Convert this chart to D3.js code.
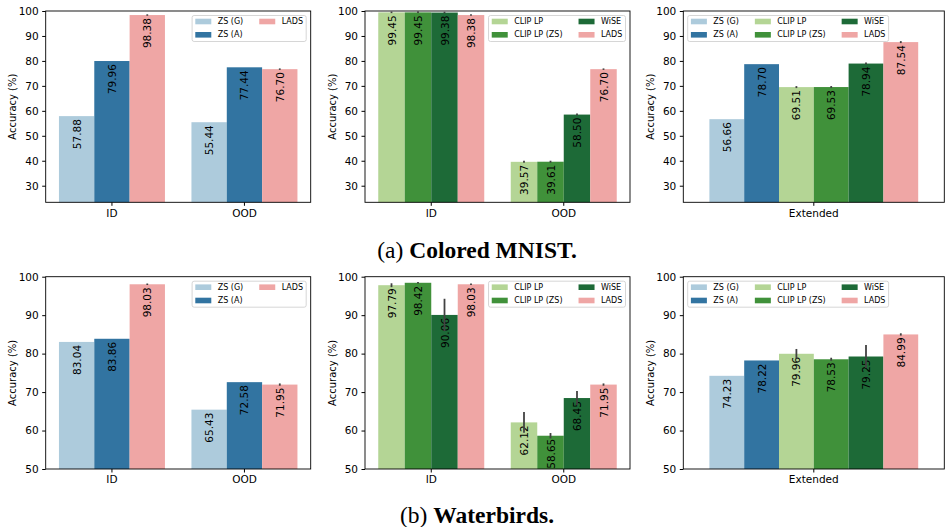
<!DOCTYPE html>
<html>
<head>
<meta charset="utf-8">
<script src="https://cdn.jsdelivr.net/npm/d3@7"></script>
<style>
  body { margin: 0; background: #fff; }
  text { font-family: "DejaVu Sans", sans-serif; }
</style>
</head>
<body>
<div id="chart"></div>
<script>
// Data
var groupCats = ['ID', 'OOD'];
var extCats = ['Extended'];

var zsNames = ['ZS (G)', 'ZS (A)', 'LADS'];
var clipNames = ['CLIP LP', 'CLIP LP (ZS)', 'WiSE', 'LADS'];
var allNames = ['ZS (G)', 'ZS (A)', 'CLIP LP', 'CLIP LP (ZS)', 'WiSE', 'LADS'];

var colors = {
  'ZS (G)': '#adcbdc',
  'ZS (A)': '#3274a1',
  'CLIP LP': '#b4d595',
  'CLIP LP (ZS)': '#40913a',
  'WiSE': '#1d6a37',
  'LADS': '#efa6a5'
};

// Colored MNIST (ID, OOD)
var mnistZsG = [57.88, 55.44];
var mnistZsA = [79.96, 77.44];
var mnistClipLp = [99.45, 39.57];
var mnistClipLpZs = [99.45, 39.61];
var mnistWise = [99.38, 58.50];
var mnistLads = [98.38, 76.70];
var mnistClipLpErr = [0.3, 0.4];
var mnistClipLpZsErr = [0.3, 0.4];
var mnistWiseErr = [0.3, 0.4];
var mnistLadsErr = [0.3, 0.3];
// Colored MNIST extended, order of allNames
var mnistExt = [56.66, 78.70, 69.51, 69.53, 78.94, 87.54];
var mnistExtErr = [0, 0, 0.4, 0.4, 0.4, 0.4];

// Waterbirds (ID, OOD)
var wbZsG = [83.04, 65.43];
var wbZsA = [83.86, 72.58];
var wbClipLp = [97.79, 62.12];
var wbClipLpZs = [98.42, 58.65];
var wbWise = [90.06, 68.45];
var wbLads = [98.03, 71.95];
var wbClipLpErr = [0.5, 2.7];
var wbClipLpZsErr = [0.2, 0.7];
var wbWiseErr = [4.2, 1.85];
var wbLadsErr = [0.2, 0.3];
// Waterbirds extended
var wbExt = [74.23, 78.22, 79.96, 78.53, 79.25, 84.99];
var wbExtErr = [0, 0, 1.25, 0.4, 3.0, 0.3];

var mnistTicks = [30, 40, 50, 60, 70, 80, 90, 100];
var wbTicks = [50, 60, 70, 80, 90, 100];

var svg = d3.select('#chart').append('svg')
  .attr('width', 950)
  .attr('height', 527);

// flatten series into rows for one panel
function makeRows(cats, names, values, errs) {
  var rows = [];
  cats.forEach(function(c, ci) {
    names.forEach(function(n, si) {
      rows.push({cat: c, name: n, value: values[si][ci], err: errs[si][ci]});
    });
  });
  return rows;
}

function drawPanel(p) {
  var g = svg.append('g');
  var x0 = d3.scaleBand().domain(p.cats).range([p.left, p.right])
    .paddingInner(0.2).paddingOuter(0.1);
  var x1 = d3.scaleBand().domain(p.names).range([0, x0.bandwidth()]);
  var y = d3.scaleLinear().domain(p.yDomain).range([p.bottom, p.top]);

  // bars
  g.selectAll('rect.bar').data(p.rows).enter().append('rect')
    .attr('class', 'bar')
    .attr('x', function(d) { return x0(d.cat) + x1(d.name); })
    .attr('width', x1.bandwidth())
    .attr('y', function(d) { return y(d.value); })
    .attr('height', function(d) { return y(p.yDomain[0]) - y(d.value); })
    .style('fill', function(d) { return colors[d.name]; });

  // value labels
  g.selectAll('text.val').data(p.rows).enter().append('text')
    .attr('class', 'val')
    .attr('transform', function(d) {
      var cx = x0(d.cat) + x1(d.name) + x1.bandwidth() / 2;
      return 'translate(' + cx + ',' + (y(d.value) + 3) + ') rotate(-90)';
    })
    .attr('text-anchor', 'end')
    .attr('dominant-baseline', 'central')
    .style('font-size', '10.5px')
    .style('fill', '#000')
    .text(function(d) { return d.value.toFixed(2); });

  // error bars
  g.selectAll('line.err').data(p.rows.filter(function(d) { return d.err > 0; }))
    .enter().append('line')
    .attr('class', 'err')
    .attr('x1', function(d) { return x0(d.cat) + x1(d.name) + x1.bandwidth() / 2; })
    .attr('x2', function(d) { return x0(d.cat) + x1(d.name) + x1.bandwidth() / 2; })
    .attr('y1', function(d) { return y(d.value - d.err); })
    .attr('y2', function(d) { return y(d.value + d.err); })
    .style('stroke', '#424242')
    .style('stroke-width', 1.8);

  // axes
  var ya = g.append('g')
    .attr('transform', 'translate(' + p.left + ',0)')
    .call(d3.axisLeft(y).tickValues(p.ticks).tickSize(3.5).tickPadding(3.5));
  ya.select('.domain').remove();
  ya.selectAll('text').style('font-size', '10.5px').style('fill', '#000')
    .attr('font-family', null);

  var xa = g.append('g')
    .attr('transform', 'translate(0,' + p.bottom + ')')
    .call(d3.axisBottom(x0).tickSize(3.5).tickPadding(3.5));
  xa.select('.domain').remove();
  xa.selectAll('text').style('font-size', '10.5px').style('fill', '#000')
    .attr('font-family', null);

  // frame
  g.append('rect')
    .attr('x', p.left).attr('y', p.top)
    .attr('width', p.right - p.left).attr('height', p.bottom - p.top)
    .style('fill', 'none').style('stroke', '#000').style('stroke-width', 0.9);

  g.append('text')
    .attr('transform', 'translate(' + (p.left - 33) + ',' + ((p.top + p.bottom) / 2) + ') rotate(-90)')
    .attr('text-anchor', 'middle')
    .attr('dominant-baseline', 'central')
    .style('font-size', '10px')
    .text('Accuracy (%)');

  drawLegend(g, p);
}

function drawLegend(g, p) {
  var fs = 8, handle = 16, hpad = 6.4, colGap = 16, pad = 3.2;
  var nrows = 2;
  var ncol = Math.ceil(p.legendNames.length / nrows);
  var lg = g.append('g');
  var box = lg.append('rect');
  var items = lg.selectAll('g.item').data(p.legendNames).enter().append('g').attr('class', 'item');
  var labels = items.append('text')
    .style('font-size', fs + 'px')
    .attr('dominant-baseline', 'central')
    .text(function(d) { return d; });

  // column widths from the text
  var colW = [];
  labels.each(function(d, i) {
    var c = Math.floor(i / nrows);
    var w = this.getComputedTextLength();
    colW[c] = Math.max(colW[c] || 0, w);
  });
  var colX = [];
  var acc = pad;
  for (var c = 0; c < ncol; c++) {
    colX.push(acc);
    acc += handle + hpad + colW[c] + (c < ncol - 1 ? colGap : 0);
  }
  var boxW = acc + pad;
  var boxH = 26;
  var bx = p.legendLoc === 'left' ? p.left + 4.4 : p.right - 4.5 - boxW;
  var by = p.top + 4.5;

  box.attr('x', bx).attr('y', by).attr('width', boxW).attr('height', boxH)
    .attr('rx', 2)
    .style('fill', 'rgba(255,255,255,0.8)')
    .style('stroke', '#cccccc').style('stroke-width', 0.8);

  items.attr('transform', function(d, i) {
    var c = Math.floor(i / nrows), r = i % nrows;
    return 'translate(' + (bx + colX[c]) + ',' + (by + 6 + r * 13.3) + ')';
  });
  items.insert('rect', 'text')
    .attr('x', 0).attr('y', -2.8).attr('width', handle).attr('height', 5.6)
    .style('fill', function(d) { return colors[d]; });
  labels.attr('x', handle + hpad);
}

var cols = [[45.7, 310.7], [365, 630], [683.3, 944.3]];
var topRow = {top: 11, bottom: 202.3, yDomain: [23.35, 100], ticks: mnistTicks};
var botRow = {top: 276.7, bottom: 469, yDomain: [50, 100], ticks: wbTicks};

function panel(row, col, cats, names, rows, legendLoc) {
  return {
    left: cols[col][0], right: cols[col][1], top: row.top, bottom: row.bottom,
    yDomain: row.yDomain, ticks: row.ticks,
    cats: cats, names: names, rows: rows,
    legendNames: names, legendLoc: legendLoc
  };
}

drawPanel(panel(topRow, 0, groupCats, zsNames,
  makeRows(groupCats, zsNames, [mnistZsG, mnistZsA, mnistLads], [[0, 0], [0, 0], mnistLadsErr]), 'right'));
drawPanel(panel(topRow, 1, groupCats, clipNames,
  makeRows(groupCats, clipNames, [mnistClipLp, mnistClipLpZs, mnistWise, mnistLads],
    [mnistClipLpErr, mnistClipLpZsErr, mnistWiseErr, mnistLadsErr]), 'right'));
drawPanel(panel(topRow, 2, extCats, allNames,
  makeRows(extCats, allNames, mnistExt.map(function(v) { return [v]; }),
    mnistExtErr.map(function(v) { return [v]; })), 'left'));

drawPanel(panel(botRow, 0, groupCats, zsNames,
  makeRows(groupCats, zsNames, [wbZsG, wbZsA, wbLads], [[0, 0], [0, 0], wbLadsErr]), 'right'));
drawPanel(panel(botRow, 1, groupCats, clipNames,
  makeRows(groupCats, clipNames, [wbClipLp, wbClipLpZs, wbWise, wbLads],
    [wbClipLpErr, wbClipLpZsErr, wbWiseErr, wbLadsErr]), 'right'));
drawPanel(panel(botRow, 2, extCats, allNames,
  makeRows(extCats, allNames, wbExt.map(function(v) { return [v]; }),
    wbExtErr.map(function(v) { return [v]; })), 'left'));

// captions
function caption(yPos, prefix, title) {
  var t = svg.append('text')
    .attr('x', 477).attr('y', yPos)
    .attr('text-anchor', 'middle')
    .style('font-family', '"Liberation Serif", "Times New Roman", serif')
    .style('font-size', '23.5px');
  t.append('tspan').text(prefix + ' ');
  t.append('tspan').style('font-weight', 'bold').text(title);
}
caption(257.5, '(a)', 'Colored MNIST.');
caption(523, '(b)', 'Waterbirds.');
</script>
</body>
</html>
